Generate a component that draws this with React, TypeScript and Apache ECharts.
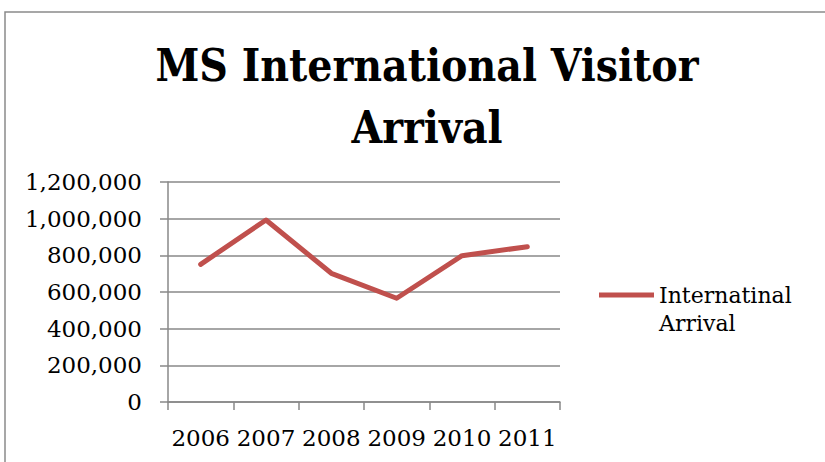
import React, { useEffect, useRef } from "react";
import * as echarts from "echarts";

const categories = ["2006", "2007", "2008", "2009", "2010", "2011"];
const arrivals = [751000, 993000, 702000, 566000, 798000, 847000];
const seriesName = "Internatinal Arrival";
const titleText = "MS International Visitor\nArrival";

export default function App() {
  const ref = useRef<HTMLDivElement>(null);
  useEffect(() => {
    if (!ref.current) return;
    const chart = echarts.init(ref.current, null, { renderer: "svg" });
    const font = "DejaVu Serif";
    const gray = "#888888";
    chart.setOption({
      animation: false,
      backgroundColor: "#ffffff",
      title: {
        text: titleText,
        left: 422,
        textAlign: "center",
        top: 29,
        textStyle: {
          fontFamily: "DejaVu Serif Condensed",
          fontSize: 44,
          fontWeight: "bold",
          lineHeight: 62,
          color: "#000000",
        },
      },
      graphic: [
        {
          type: "rect",
          shape: { x: 5, y: 12, width: 900, height: 600 },
          style: { fill: "none", stroke: "#8a8a8a", lineWidth: 1.5 },
          silent: true,
        },
      ],
      legend: {
        left: 594,
        top: 248,
        icon: "rect",
        itemWidth: 55,
        itemHeight: 5,
        itemGap: 0,
        formatter: () => " \nInternatinal\nArrival",
        textStyle: {
          fontFamily: font,
          fontSize: 22,
          lineHeight: 28,
          color: "#000000",
        },
        data: [{ name: seriesName, itemStyle: { color: "#C0504D" } }],
      },
      grid: { left: 168, right: 265, top: 182, bottom: 60 },
      xAxis: {
        type: "category",
        data: categories,
        boundaryGap: true,
        axisLine: { show: true, lineStyle: { color: gray, width: 1.5 } },
        axisTick: { show: true, interval: 0, length: 8, alignWithLabel: false, lineStyle: { color: gray, width: 1.5 } },
        axisLabel: { interval: 0, fontFamily: font, fontSize: 23, color: "#000000", margin: 24 },
      },
      yAxis: {
        type: "value",
        min: 0,
        max: 1200000,
        interval: 200000,
        axisLine: { show: true, lineStyle: { color: gray, width: 1.5 } },
        axisTick: { show: true, length: 8, lineStyle: { color: gray, width: 1.5 } },
        splitLine: { show: true, lineStyle: { color: gray, width: 1.5 } },
        axisLabel: {
          fontFamily: font,
          fontSize: 23,
          color: "#000000",
          margin: 26,
          formatter: (v: number) => v.toLocaleString("en-US"),
        },
      },
      series: [
        {
          name: seriesName,
          type: "line",
          data: arrivals,
          showSymbol: false,
          symbol: "none",
          lineStyle: { color: "#C0504D", width: 5, cap: "round", join: "round" },
          itemStyle: { color: "#C0504D" },
        },
      ],
    });
    return () => chart.dispose();
  }, []);
  return (
    <div
      ref={ref}
      style={{ position: "fixed", left: 0, top: 0, width: 825, height: 462 }}
    />
  );
}
